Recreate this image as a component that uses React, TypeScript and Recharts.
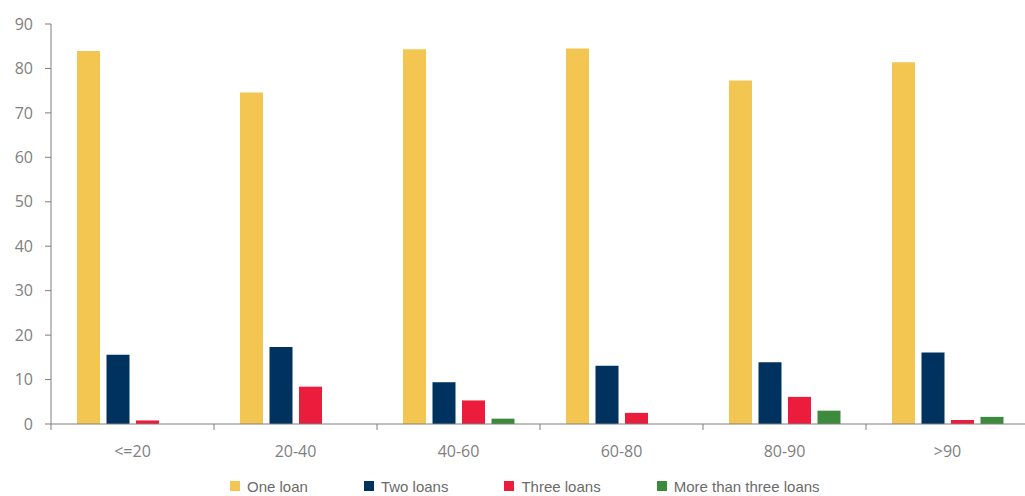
import React from 'react';
import { BarChart, Bar, XAxis, YAxis, Legend } from 'recharts';

const categories = ['<=20', '20-40', '40-60', '60-80', '80-90', '>90'];
const oneLoan = [83.9, 74.6, 84.3, 84.5, 77.3, 81.4];
const twoLoans = [15.6, 17.3, 9.4, 13.1, 13.9, 16.1];
const threeLoans = [0.8, 8.4, 5.3, 2.5, 6.1, 0.9];
const moreThanThree = [0, 0, 1.2, 0, 3.0, 1.6];
const yTicks = [0, 10, 20, 30, 40, 50, 60, 70, 80, 90];

const seriesNames = ['One loan', 'Two loans', 'Three loans', 'More than three loans'];
const seriesColors = ['#F2C650', '#00325F', '#EC1C3C', '#3C8A3C'];

const data = categories.map((c, i) => ({
  cat: c,
  one: oneLoan[i],
  two: twoLoans[i],
  three: threeLoans[i],
  more: moreThanThree[i],
}));

const AXIS_COLOR = '#7f7f7f';
const LABEL_COLOR = '#808080';
const BAND = 163;

const XTick = (props: any) => {
  const { x, y, payload } = props;
  const axisY = y - 8;
  return (
    <g>
      <line x1={x - BAND / 2} x2={x - BAND / 2} y1={axisY} y2={axisY + 6} stroke={AXIS_COLOR} strokeWidth={1} />
      <text x={x} y={y} dy={25} textAnchor="middle" fill={LABEL_COLOR} fontSize={16} fontFamily="'Open Sans', sans-serif">
        {payload.value}
      </text>
    </g>
  );
};

const LegendContent = (props: any) => {
  const payload = [...(props.payload || [])].sort(
    (a: any, b: any) => seriesNames.indexOf(a.value) - seriesNames.indexOf(b.value)
  );
  return (
    <div style={{ height: 20, display: 'flex', alignItems: 'center', paddingLeft: 230, fontFamily: "'Liberation Sans', sans-serif", fontSize: 15, color: '#6b6b6b' }}>
      {payload.map((p: any, i: number) => (
        <div key={i} style={{ display: 'flex', alignItems: 'center', marginRight: 56 }}>
          <span style={{ display: 'inline-block', width: 10, height: 10, background: p.color, marginRight: 7 }} />
          <span>{p.value}</span>
        </div>
      ))}
    </div>
  );
};

export default function App() {
  return (
    <div style={{ position: 'absolute', left: 0, top: 0, width: 1025, height: 496, overflow: 'hidden', background: '#fff' }}>
      <BarChart
        width={1040}
        height={496}
        data={data}
        margin={{ top: 24, right: 11, bottom: 0, left: 0 }}
        barSize={23}
        barGap={6.5}
      >
        <XAxis
          dataKey="cat"
          interval={0}
          height={52}
          tickLine={false}
          axisLine={{ stroke: AXIS_COLOR, strokeWidth: 1 }}
          tick={<XTick />}
        />
        <YAxis
          width={51}
          domain={[0, 90]}
          ticks={yTicks}
          tickSize={6}
          tickMargin={12}
          axisLine={{ stroke: AXIS_COLOR, strokeWidth: 1 }}
          tickLine={{ stroke: AXIS_COLOR, strokeWidth: 1 }}
          tick={{ fill: LABEL_COLOR, fontSize: 16, fontFamily: "'Open Sans', sans-serif" }}
        />
        <Legend
          verticalAlign="bottom"
          align="left"
          itemSorter={null as any}
          wrapperStyle={{ left: 0, width: 1025 }}
          content={<LegendContent />}
        />
        <Bar dataKey="one" name={seriesNames[0]} fill={seriesColors[0]} isAnimationActive={false} />
        <Bar dataKey="two" name={seriesNames[1]} fill={seriesColors[1]} isAnimationActive={false} />
        <Bar dataKey="three" name={seriesNames[2]} fill={seriesColors[2]} isAnimationActive={false} />
        <Bar dataKey="more" name={seriesNames[3]} fill={seriesColors[3]} isAnimationActive={false} />
      </BarChart>
    </div>
  );
}
